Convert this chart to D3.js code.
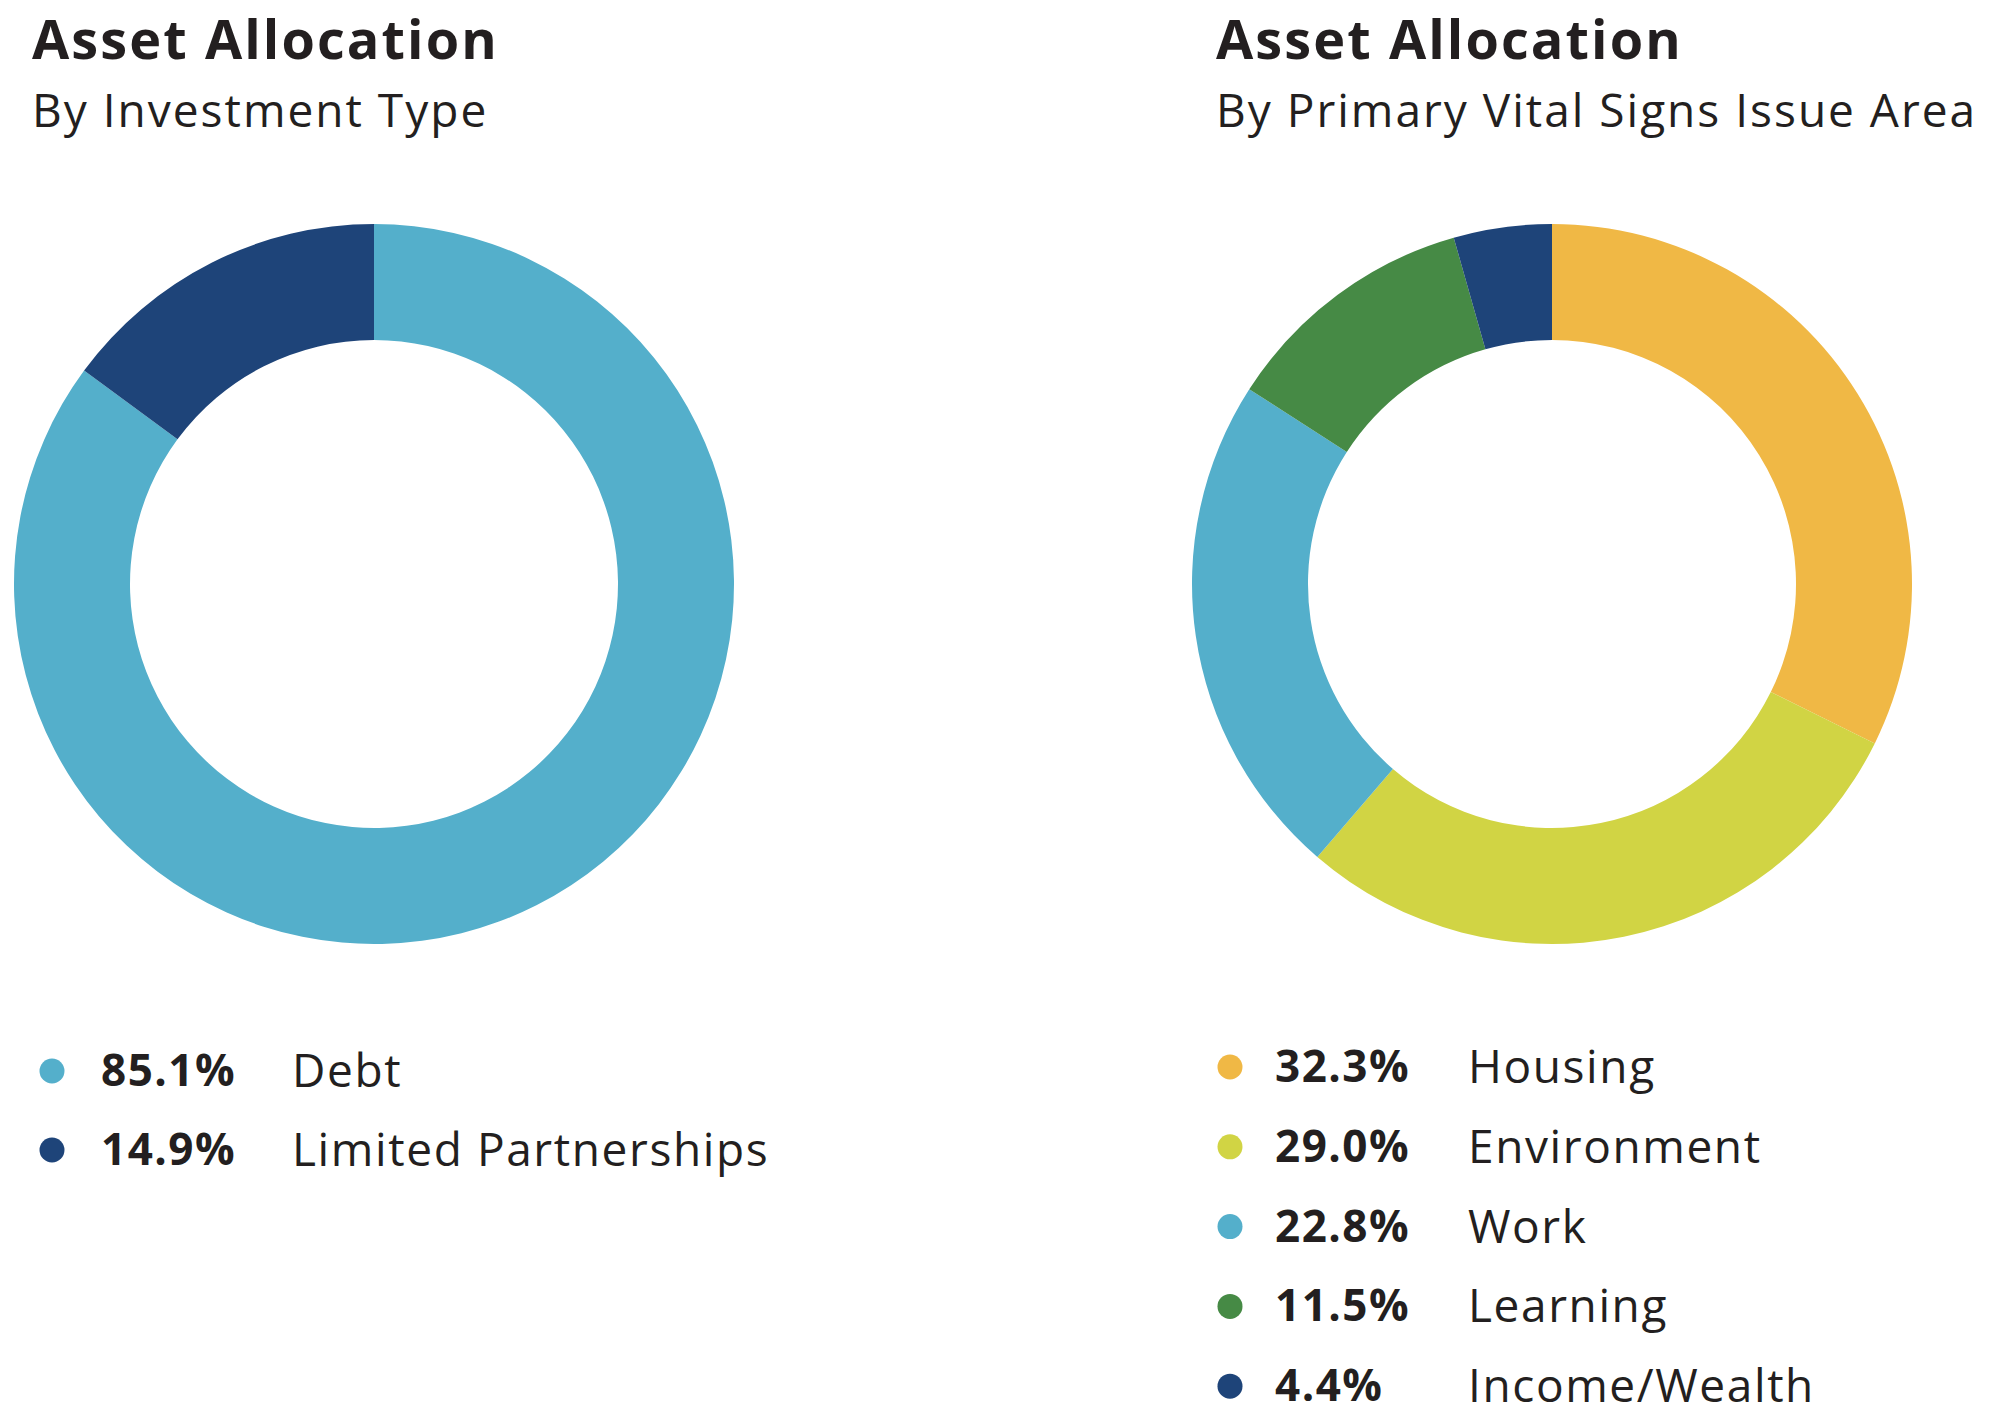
<!DOCTYPE html>
<html>
<head>
<meta charset="utf-8">
<script src="https://cdn.jsdelivr.net/npm/d3@7"></script>
<style>
  body { margin: 0; background: #fff; }
  text { font-family: "Open Sans", sans-serif; fill: #231F20; }
</style>
</head>
<body>
<div id="chart"></div>
<script>
// data
var typeCategories = ["Debt", "Limited Partnerships"];
var typeValues = [85.1, 14.9];
var typeColors = ["#54AFCB", "#1E4479"];

var issueCategories = ["Housing", "Environment", "Work", "Learning", "Income/Wealth"];
var issueValues = [32.3, 29.0, 22.8, 11.5, 4.4];
var issueColors = ["#F0B845", "#D1D444", "#54AFCB", "#468A45", "#1E4479"];

var WIDTH = 2000,
    HEIGHT = 1426;

var svg = d3.select("#chart")
    .append("svg")
    .attr("width", WIDTH)
    .attr("height", HEIGHT);

var formatPct = function(v) { return d3.format(".1f")(v) + "%"; };

function drawPanel(opts) {
    var g = svg.append("g").attr("transform", "translate(" + opts.x + ",0)");

    g.append("text")
        .attr("x", 0)
        .attr("y", 59)
        .style("font-size", "54px")
        .style("font-weight", 700)
        .style("letter-spacing", "2.1px")
        .text(opts.title);

    g.append("text")
        .attr("x", 0)
        .attr("y", 127)
        .style("font-size", "46px")
        .style("letter-spacing", "2px")
        .text(opts.subtitle);

    var pie = d3.pie().sort(null).value(function(d) { return d; });
    var arc = d3.arc().innerRadius(244).outerRadius(360);

    var data = opts.values.map(function(v, i) {
        return { value: v, name: opts.categories[i], color: opts.colors[i] };
    });

    var donut = g.append("g")
        .attr("transform", "translate(" + opts.cx + ",584)");

    donut.selectAll("path")
        .data(pie(opts.values))
        .enter().append("path")
        .attr("d", arc)
        .style("fill", function(d, i) { return opts.colors[i]; });

    // legend
    var y = d3.scaleLinear()
        .domain([0, 1])
        .range([opts.legendTop, opts.legendTop + opts.legendStep]);

    var row = g.append("g").attr("class", "legend")
        .selectAll("g").data(data)
        .enter().append("g")
        .attr("transform", function(d, i) { return "translate(0," + y(i) + ")"; });

    row.append("circle")
        .attr("cx", opts.dotX)
        .attr("cy", 0)
        .attr("r", 12.5)
        .style("fill", function(d) { return d.color; });

    row.append("text")
        .attr("x", opts.pctX)
        .attr("y", 15)
        .style("font-size", "44px")
        .style("font-weight", 700)
        .style("letter-spacing", "1.5px")
        .text(function(d) { return formatPct(d.value); });

    row.append("text")
        .attr("x", opts.labelX)
        .attr("y", 16)
        .style("font-size", "46px")
        .style("letter-spacing", "1.6px")
        .text(function(d) { return d.name; });
}

drawPanel({
    x: 32,
    title: "Asset Allocation",
    subtitle: "By Investment Type",
    categories: typeCategories,
    values: typeValues,
    colors: typeColors,
    cx: 342,
    legendTop: 1071,
    legendStep: 79,
    dotX: 20,
    pctX: 69,
    labelX: 260
});

drawPanel({
    x: 1216,
    title: "Asset Allocation",
    subtitle: "By Primary Vital Signs Issue Area",
    categories: issueCategories,
    values: issueValues,
    colors: issueColors,
    cx: 336,
    legendTop: 1067,
    legendStep: 79.8,
    dotX: 14,
    pctX: 59,
    labelX: 252
});
</script>
</body>
</html>
